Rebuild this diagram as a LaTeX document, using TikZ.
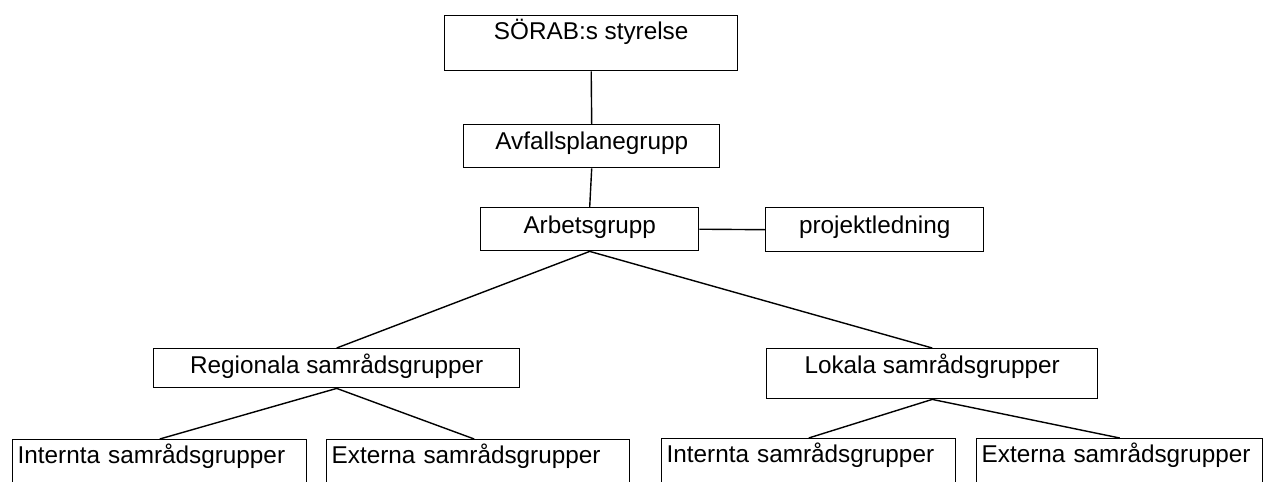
\documentclass[tikz,border=0pt]{standalone}
\usepackage{fontspec}
\setmainfont{Liberation Sans}
\begin{document}
\begin{tikzpicture}[x=1pt,y=-1pt,
  font=\fontsize{24.3}{29}\selectfont,
  box/.style={draw, line width=1.4pt, rectangle, inner sep=0pt, anchor=north west},
  conn/.style={line width=1.4pt},
  leftbox/.style={box, inner xsep=5pt, text width=#1, align=left}
]
\useasboundingbox (0,0) rectangle (1264,482);
\clip (0,0) rectangle (1264,482);
\fill[white] (0,0) rectangle (1264,482);

\node[box, minimum width=293pt, text height=24pt, text depth=31pt] (sorab) at (444,15) {SÖRAB:s styrelse};
\node[box, minimum width=256pt, text height=25pt, text depth=18pt] (avfall) at (463,124) {Avfallsplanegrupp};
\node[box, minimum width=218pt, text height=26pt, text depth=17pt] (arbets) at (480,207) {Arbetsgrupp};
\node[box, minimum width=218pt, text height=26pt, text depth=18pt] (projekt) at (765,207) {projektledning};
\node[box, minimum width=366pt, text height=25pt, text depth=14pt] (regional) at (153,348) {Regionala samrådsgrupper};
\node[box, minimum width=331pt, text height=25pt, text depth=25pt] (lokala) at (766,348) {Lokala samrådsgrupper};

\node[leftbox=284pt, text height=24pt, text depth=39pt] (int1) at (12,439) {Internta samrådsgrupper};
\node[leftbox=293pt, text height=24pt, text depth=39pt] (ext1) at (326,439) {Externa samrådsgrupper};
\node[leftbox=284pt, text height=24pt, text depth=39pt] (int2) at (661,438) {Internta samrådsgrupper};
\node[leftbox=276pt, text height=24pt, text depth=39pt] (ext2) at (976,438) {Externa samrådsgrupper};

\draw[conn] (sorab.south) -- (avfall.north);
\draw[conn] (avfall.south) -- (arbets.north);
\draw[conn] (arbets.east) -- (projekt.west);
\draw[conn] (regional.north) -- (arbets.south) -- (lokala.north);
\draw[conn] (int1.north) -- (regional.south) -- ([xshift=-4pt]ext1.north);
\draw[conn] (int2.north) -- (lokala.south) -- (ext2.north);
\end{tikzpicture}
\end{document}
